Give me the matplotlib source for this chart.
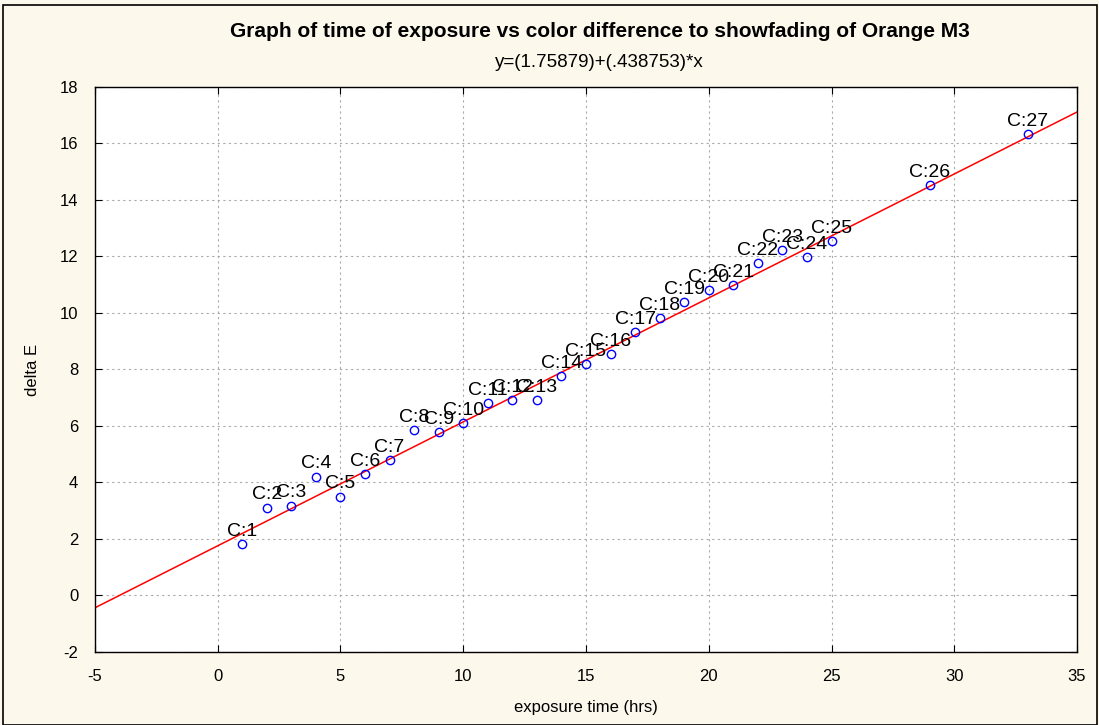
import matplotlib.pyplot as plt
from matplotlib.patches import Rectangle
import numpy as np

plt.rcParams['font.family'] = ['Liberation Sans', 'DejaVu Sans']
plt.rcParams['axes.unicode_minus'] = False

# exposure time (hrs) and delta E for each case C:1 .. C:27
hours = [1, 2, 3, 4, 5, 6, 7, 8, 9, 10, 11, 12, 13, 14, 15, 16, 17, 18,
         19, 20, 21, 22, 23, 24, 25, 29, 33]
delta_e = [1.81, 3.11, 3.18, 4.21, 3.50, 4.30, 4.80, 5.86, 5.78, 6.10,
           6.82, 6.92, 6.92, 7.77, 8.19, 8.55, 9.33, 9.82, 10.39, 10.81,
           10.99, 11.77, 12.23, 11.98, 12.55, 14.53, 16.34]
labels = ["C:%d" % (i + 1) for i in range(len(hours))]

intercept = 1.75879
slope = 0.438753

fig = plt.figure(figsize=(10.99, 7.25), dpi=100, facecolor='#fdf8ec')
fig.patches.append(Rectangle((0.003, 0.0), 0.995, 0.993, transform=fig.transFigure,
                             fill=False, edgecolor='black', lw=1.2))
ax = fig.add_axes([0.0864, 0.1007, 0.8936, 0.7793])
ax.set_facecolor('white')

xs = np.array([-5, 35])
ax.plot(xs, intercept + slope * xs, color='red', lw=1.1, zorder=2)
ax.plot(hours, delta_e, 'o', mfc='none', mec='blue', ms=6, mew=1, zorder=3)
for x, y, t in zip(hours, delta_e, labels):
    ax.annotate(t, (x, y), xytext=(0, 3), textcoords='offset points',
                ha='center', va='bottom', fontsize=14, zorder=4)

ax.set_xlim(-5, 35)
ax.set_ylim(-2, 18)
ax.set_xticks(range(-5, 36, 5))
ax.set_yticks(range(-2, 19, 2))
ax.grid(True, color='#aaaaaa', ls=(0, (2, 3)), lw=0.8)
ax.tick_params(direction='in', top=True, right=True, labelsize=12, length=5)
ax.tick_params(axis='x', pad=12)
ax.tick_params(axis='y', pad=12)
for s in ax.spines.values():
    s.set_linewidth(1)

ax.set_xlabel("exposure time (hrs)", fontsize=12, labelpad=12)
ax.set_ylabel("delta E", fontsize=12, labelpad=14)
fig.text(0.5455, 0.956, "Graph of time of exposure vs color difference to showfading of Orange M3",
         ha='center', va='center', fontsize=15, fontweight='bold')
fig.text(0.5455, 0.914, "y=(1.75879)+(.438753)*x", ha='center', va='center', fontsize=13.5)

fig.savefig("out.png", dpi=100, facecolor=fig.get_facecolor())
